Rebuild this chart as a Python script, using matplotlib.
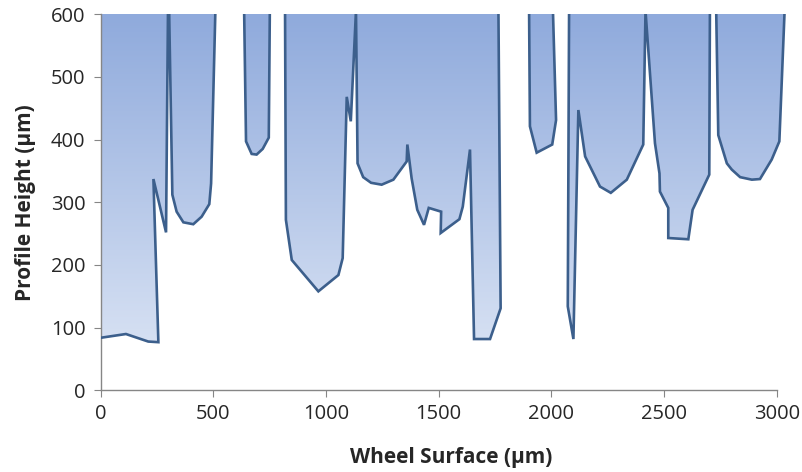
import numpy as np
import matplotlib
matplotlib.use("Agg")
import matplotlib.pyplot as plt
from matplotlib.patches import Polygon
from matplotlib.colors import LinearSegmentedColormap

# Profile data (values above 600 are off the chart top)
surface_um = [0, 112, 211, 256, 234, 290, 299, 303, 318, 337, 367, 411, 448, 482, 490, 510,
              636, 645, 670, 692, 719, 746, 751,
              818, 822, 848, 966, 1055, 1074, 1092, 1110, 1133, 1140, 1165, 1200, 1247, 1299,
              1358, 1361, 1380, 1405, 1435, 1456, 1511, 1509, 1592, 1607, 1639, 1657, 1728,
              1775, 1765,
              1901, 1905, 1935, 2004, 2021, 2006,
              2079, 2073, 2098, 2120, 2150, 2216, 2264, 2335, 2408, 2418, 2460, 2480, 2482,
              2519, 2519, 2608, 2627, 2701, 2704,
              2731, 2741, 2779, 2801, 2838, 2890, 2926, 2978, 3012, 3037]
height_um = [84, 90, 78, 77, 337, 252, 620, 620, 312, 285, 268, 265, 277, 297, 330, 620,
             620, 397, 377, 376, 385, 403, 620,
             620, 272, 208, 158, 184, 211, 468, 429, 605, 362, 340, 331, 328, 336,
             365, 392, 338, 288, 264, 291, 285, 251, 273, 293, 384, 82, 82,
             131, 620,
             620, 421, 379, 392, 431, 620,
             620, 134, 82, 447, 373, 325, 315, 336, 392, 605, 394, 346, 317,
             291, 243, 241, 288, 344, 620,
             620, 407, 362, 352, 340, 336, 337, 368, 397, 620]

x_ticks = [0, 500, 1000, 1500, 2000, 2500, 3000]
y_ticks = [0, 100, 200, 300, 400, 500, 600]

plt.rcParams['font.family'] = ['Open Sans', 'DejaVu Sans']

fig = plt.figure(figsize=(8.03, 4.72), dpi=100)
ax = fig.add_axes([0.1254, 0.1727, 0.853, 0.7976])
ax.set_xlim(0, 3040)
ax.set_ylim(0, 600)

# gradient fill above the profile line
verts = list(zip(surface_um, height_um)) + [(surface_um[-1], 1000), (surface_um[0], 1000)]
poly = Polygon(verts, closed=True, facecolor='none', edgecolor='none')
ax.add_patch(poly)
cmap = LinearSegmentedColormap.from_list('g', ['#E0E8F6', '#8FAADC'])
grad = np.linspace(0, 1, 256).reshape(-1, 1)
im = ax.imshow(grad, extent=[0, 3040, 0, 600], origin='lower', cmap=cmap,
               aspect='auto', interpolation='bilinear', zorder=1)
im.set_clip_path(poly)

ax.plot(surface_um, height_um, color='#3C5F8C', lw=1.9, solid_joinstyle='miter', zorder=3)

for s in ['top', 'right']:
    ax.spines[s].set_visible(False)
for s in ['left', 'bottom']:
    ax.spines[s].set_color('#868686')
    ax.spines[s].set_linewidth(1.0)
ax.spines['bottom'].set_bounds(0, 3000)

ax.set_xticks(x_ticks)
ax.set_yticks(y_ticks)
ax.tick_params(direction='out', length=5, color='#868686', labelsize=14.5,
               labelcolor='#262626')
ax.tick_params(axis='y', pad=6)
ax.tick_params(axis='x', pad=5)

ax.set_xlabel('Wheel Surface (\u00b5m)', fontsize=15, fontweight='bold', color='#262626')
ax.set_ylabel('Profile Height (\u00b5m)', fontsize=15, fontweight='bold', color='#262626')
ax.xaxis.label.set_va('center')
ax.xaxis.set_label_coords(0.511, -0.179)
ax.yaxis.label.set_va('center')
ax.yaxis.label.set_ha('center')
ax.yaxis.set_label_coords(-0.1105, 0.5)

fig.savefig('out.png', dpi=100)
